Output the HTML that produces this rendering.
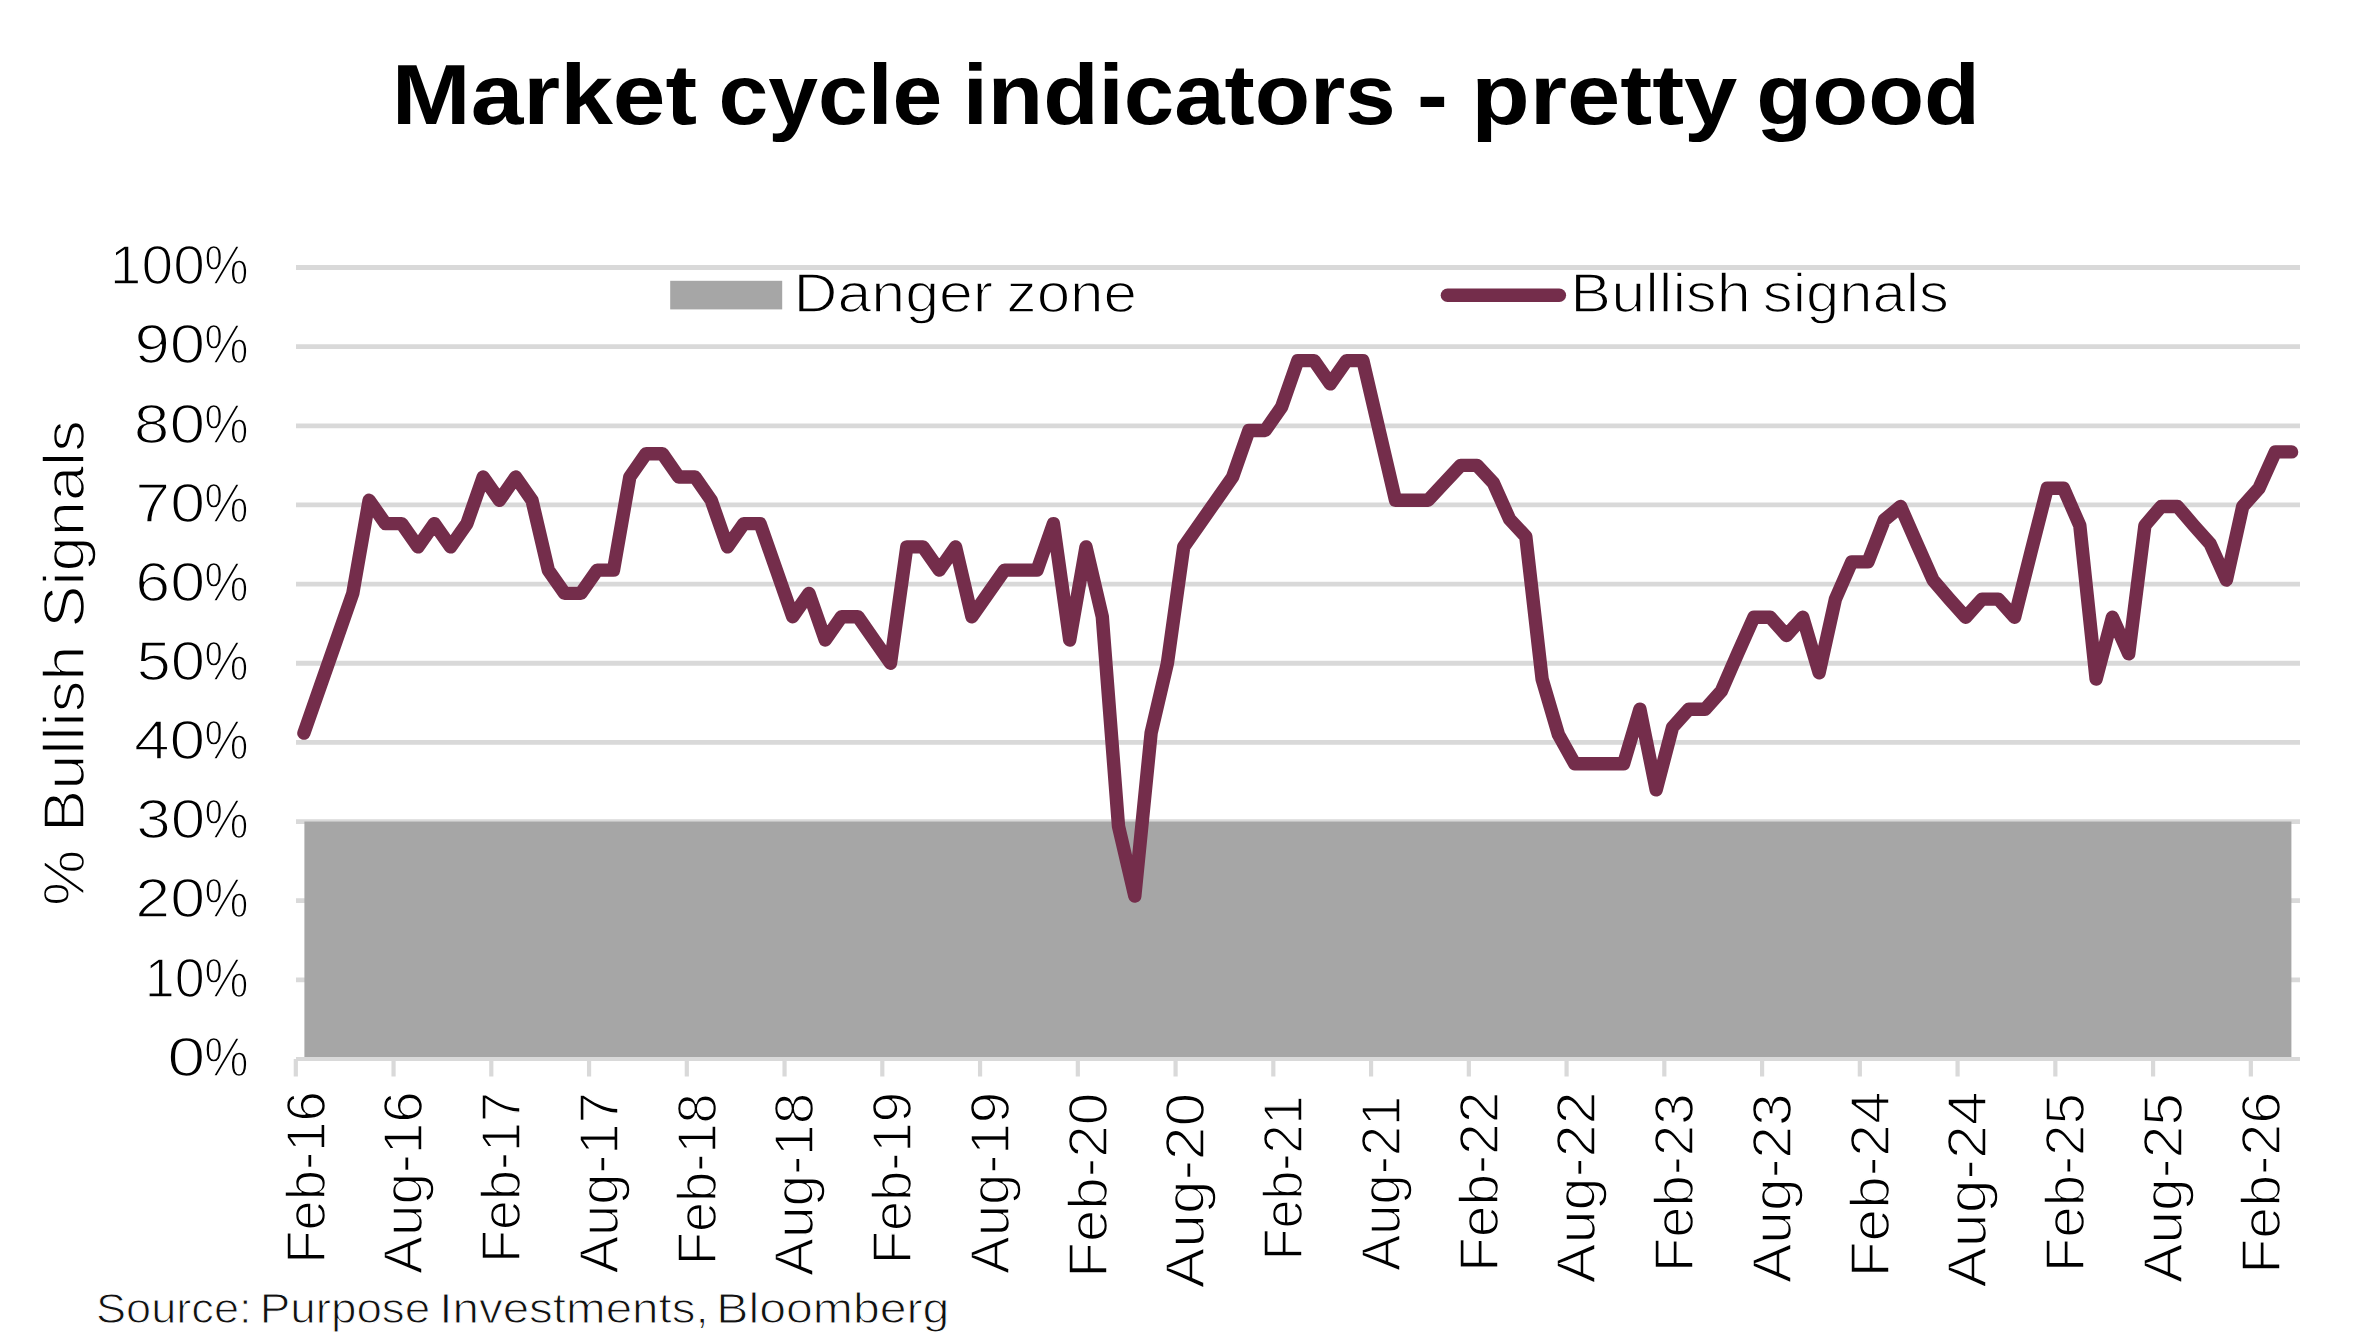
<!DOCTYPE html>
<html lang="en"><head><meta charset="utf-8"><title>Market cycle indicators - pretty good</title>
<style>html,body{margin:0;padding:0;background:#fff}body{width:2373px;height:1340px;overflow:hidden}svg{display:block}text{font-family:"Liberation Sans",sans-serif}</style></head><body>
<svg width="2373" height="1340" viewBox="0 0 2373 1340">
<rect width="2373" height="1340" fill="#fff"/>
<g stroke="#d9d9d9" stroke-width="4.8">
<line x1="296" y1="979.85" x2="2300" y2="979.85"/>
<line x1="296" y1="900.70" x2="2300" y2="900.70"/>
<line x1="296" y1="821.55" x2="2300" y2="821.55"/>
<line x1="296" y1="742.40" x2="2300" y2="742.40"/>
<line x1="296" y1="663.25" x2="2300" y2="663.25"/>
<line x1="296" y1="584.10" x2="2300" y2="584.10"/>
<line x1="296" y1="504.95" x2="2300" y2="504.95"/>
<line x1="296" y1="425.80" x2="2300" y2="425.80"/>
<line x1="296" y1="346.65" x2="2300" y2="346.65"/>
<line x1="296" y1="267.50" x2="2300" y2="267.50"/>
</g>
<rect x="304.4" y="821.55" width="1987.0" height="235.65" fill="#a6a6a6"/>
<g stroke="#d9d9d9" stroke-width="4.2">
<line x1="296" y1="1059" x2="2300" y2="1059"/>
<line x1="295.80" y1="1059" x2="295.80" y2="1076.5"/>
<line x1="393.55" y1="1059" x2="393.55" y2="1076.5"/>
<line x1="491.30" y1="1059" x2="491.30" y2="1076.5"/>
<line x1="589.06" y1="1059" x2="589.06" y2="1076.5"/>
<line x1="686.81" y1="1059" x2="686.81" y2="1076.5"/>
<line x1="784.56" y1="1059" x2="784.56" y2="1076.5"/>
<line x1="882.31" y1="1059" x2="882.31" y2="1076.5"/>
<line x1="980.06" y1="1059" x2="980.06" y2="1076.5"/>
<line x1="1077.82" y1="1059" x2="1077.82" y2="1076.5"/>
<line x1="1175.57" y1="1059" x2="1175.57" y2="1076.5"/>
<line x1="1273.32" y1="1059" x2="1273.32" y2="1076.5"/>
<line x1="1371.07" y1="1059" x2="1371.07" y2="1076.5"/>
<line x1="1468.82" y1="1059" x2="1468.82" y2="1076.5"/>
<line x1="1566.58" y1="1059" x2="1566.58" y2="1076.5"/>
<line x1="1664.33" y1="1059" x2="1664.33" y2="1076.5"/>
<line x1="1762.08" y1="1059" x2="1762.08" y2="1076.5"/>
<line x1="1859.83" y1="1059" x2="1859.83" y2="1076.5"/>
<line x1="1957.58" y1="1059" x2="1957.58" y2="1076.5"/>
<line x1="2055.34" y1="1059" x2="2055.34" y2="1076.5"/>
<line x1="2153.09" y1="1059" x2="2153.09" y2="1076.5"/>
<line x1="2250.84" y1="1059" x2="2250.84" y2="1076.5"/>
</g>
<polyline points="303.9,733.1 320.2,686.5 336.5,640.0 352.8,593.4 369.1,500.3 385.4,523.6 401.7,523.6 418.0,546.9 434.3,523.6 450.6,546.9 466.9,523.6 483.2,477.0 499.5,500.3 515.7,477.0 532.0,500.3 548.3,570.1 564.6,593.4 580.9,593.4 597.2,570.1 613.5,570.1 629.8,477.0 646.1,453.7 662.4,453.7 678.7,477.0 695.0,477.0 711.2,500.3 727.5,546.9 743.8,523.6 760.1,523.6 776.4,570.1 792.7,616.7 809.0,593.4 825.3,640.0 841.6,616.7 857.9,616.7 874.2,640.0 890.5,663.2 906.8,546.9 923.0,546.9 939.3,570.1 955.6,546.9 971.9,616.7 988.2,593.4 1004.5,570.1 1020.8,570.1 1037.1,570.1 1053.4,523.6 1069.7,640.0 1086.0,546.9 1102.3,616.7 1118.5,826.2 1134.8,896.0 1151.1,733.1 1167.4,663.2 1183.7,546.9 1200.0,523.6 1216.3,500.3 1232.6,477.0 1248.9,430.5 1265.2,430.5 1281.5,407.2 1297.8,360.6 1314.1,360.6 1330.3,383.9 1346.6,360.6 1362.9,360.6 1379.2,430.5 1395.5,500.3 1411.8,500.3 1428.1,500.3 1444.4,482.8 1460.7,465.4 1477.0,465.4 1493.3,482.8 1509.6,519.2 1525.8,536.6 1542.1,679.1 1558.4,734.5 1574.7,763.8 1591.0,763.8 1607.3,763.8 1623.6,763.8 1639.9,709.2 1656.2,789.9 1672.5,727.4 1688.8,709.2 1705.1,709.2 1721.4,691.0 1737.6,653.8 1753.9,617.3 1770.2,617.3 1786.5,635.5 1802.8,617.3 1819.1,672.7 1835.4,599.1 1851.7,561.9 1868.0,561.9 1884.3,520.0 1900.6,506.5 1916.9,543.7 1933.1,580.1 1949.4,599.1 1965.7,617.3 1982.0,599.1 1998.3,599.1 2014.6,617.3 2030.9,552.4 2047.2,488.3 2063.5,488.3 2079.8,525.5 2096.1,679.1 2112.4,617.3 2128.7,653.8 2144.9,525.5 2161.2,506.5 2177.5,506.5 2193.8,525.5 2210.1,543.7 2226.4,580.1 2242.7,506.5 2259.0,488.3 2275.3,451.9 2291.6,451.9" fill="none" stroke="#742d4b" stroke-width="13.4" stroke-linejoin="round" stroke-linecap="round"/>
<rect x="670.2" y="280.8" width="112" height="28.6" fill="#a6a6a6"/>
<line x1="1447.5" y1="295.25" x2="1559.3" y2="295.25" stroke="#742d4b" stroke-width="13.6" stroke-linecap="round"/>
<g>
<text y="312.15" font-size="55.65" stroke="#fff" stroke-width="1.50" fill="#000"><tspan x="793.41" textLength="199.76" lengthAdjust="spacingAndGlyphs">Danger</tspan> <tspan x="1006.55" textLength="130.51" lengthAdjust="spacingAndGlyphs">zone</tspan></text>
<text y="312.15" font-size="55.65" stroke="#fff" stroke-width="1.50" fill="#000"><tspan x="1570.34" textLength="180.36" lengthAdjust="spacingAndGlyphs">Bullish</tspan> <tspan x="1762.76" textLength="186.07" lengthAdjust="spacingAndGlyphs">signals</tspan></text>
<text y="124.00" font-size="85.22" font-weight="700" fill="#000"><tspan x="391.76" textLength="305.26" lengthAdjust="spacingAndGlyphs">Market</tspan> <tspan x="718.42" textLength="223.82" lengthAdjust="spacingAndGlyphs">cycle</tspan> <tspan x="962.66" textLength="433.11" lengthAdjust="spacingAndGlyphs">indicators</tspan> <tspan x="1417.14" textLength="30.85" lengthAdjust="spacingAndGlyphs">-</tspan> <tspan x="1471.26" textLength="266.11" lengthAdjust="spacingAndGlyphs">pretty</tspan> <tspan x="1756.31" textLength="223.77" lengthAdjust="spacingAndGlyphs">good</tspan></text>
<text y="1075.75" font-size="55.36" stroke="#fff" stroke-width="1.50" fill="#000"><tspan x="167.31" textLength="38.18" lengthAdjust="spacingAndGlyphs">0</tspan><tspan x="204.15" textLength="44.35" lengthAdjust="spacingAndGlyphs">%</tspan></text>
<text y="996.60" font-size="55.36" stroke="#fff" stroke-width="1.50" fill="#000"><tspan x="144.75" textLength="60.00" lengthAdjust="spacingAndGlyphs">10</tspan><tspan x="204.15" textLength="44.35" lengthAdjust="spacingAndGlyphs">%</tspan></text>
<text y="917.45" font-size="55.36" stroke="#fff" stroke-width="1.50" fill="#000"><tspan x="135.33" textLength="69.83" lengthAdjust="spacingAndGlyphs">20</tspan><tspan x="204.15" textLength="44.35" lengthAdjust="spacingAndGlyphs">%</tspan></text>
<text y="838.30" font-size="55.36" stroke="#fff" stroke-width="1.50" fill="#000"><tspan x="136.25" textLength="68.94" lengthAdjust="spacingAndGlyphs">30</tspan><tspan x="204.15" textLength="44.35" lengthAdjust="spacingAndGlyphs">%</tspan></text>
<text y="759.15" font-size="55.36" stroke="#fff" stroke-width="1.50" fill="#000"><tspan x="133.91" textLength="71.36" lengthAdjust="spacingAndGlyphs">40</tspan><tspan x="204.15" textLength="44.35" lengthAdjust="spacingAndGlyphs">%</tspan></text>
<text y="680.00" font-size="55.36" stroke="#fff" stroke-width="1.50" fill="#000"><tspan x="136.43" textLength="68.56" lengthAdjust="spacingAndGlyphs">50</tspan><tspan x="204.15" textLength="44.35" lengthAdjust="spacingAndGlyphs">%</tspan></text>
<text y="600.85" font-size="55.36" stroke="#fff" stroke-width="1.50" fill="#000"><tspan x="135.21" textLength="69.89" lengthAdjust="spacingAndGlyphs">60</tspan><tspan x="204.15" textLength="44.35" lengthAdjust="spacingAndGlyphs">%</tspan></text>
<text y="521.70" font-size="55.36" stroke="#fff" stroke-width="1.50" fill="#000"><tspan x="135.36" textLength="69.71" lengthAdjust="spacingAndGlyphs">70</tspan><tspan x="204.15" textLength="44.35" lengthAdjust="spacingAndGlyphs">%</tspan></text>
<text y="442.55" font-size="55.36" stroke="#fff" stroke-width="1.50" fill="#000"><tspan x="133.86" textLength="71.37" lengthAdjust="spacingAndGlyphs">80</tspan><tspan x="204.15" textLength="44.35" lengthAdjust="spacingAndGlyphs">%</tspan></text>
<text y="363.40" font-size="55.36" stroke="#fff" stroke-width="1.50" fill="#000"><tspan x="134.43" textLength="70.76" lengthAdjust="spacingAndGlyphs">90</tspan><tspan x="204.15" textLength="44.35" lengthAdjust="spacingAndGlyphs">%</tspan></text>
<text y="284.25" font-size="55.36" stroke="#fff" stroke-width="1.50" fill="#000"><tspan x="109.87" textLength="94.99" lengthAdjust="spacingAndGlyphs">100</tspan><tspan x="204.15" textLength="44.35" lengthAdjust="spacingAndGlyphs">%</tspan></text>
<text transform="translate(83.85,905.88) rotate(-90) scale(1.1062,1)" font-size="57.25" stroke="#fff" stroke-width="1.50" fill="#000">% Bullish Signals</text>
<text transform="translate(324.65,1263.71) rotate(-90) scale(0.9753,1)" font-size="55.80" stroke="#fff" stroke-width="1.50" fill="#000">Feb-16</text>
<text transform="translate(422.40,1273.90) rotate(-90) scale(1.0158,1)" font-size="55.80" stroke="#fff" stroke-width="1.50" fill="#000">Aug-16</text>
<text transform="translate(520.15,1262.93) rotate(-90) scale(0.9663,1)" font-size="55.80" stroke="#fff" stroke-width="1.50" fill="#000">Feb-17</text>
<text transform="translate(617.91,1273.42) rotate(-90) scale(1.0078,1)" font-size="55.80" stroke="#fff" stroke-width="1.50" fill="#000">Aug-17</text>
<text transform="translate(715.66,1265.31) rotate(-90) scale(0.9740,1)" font-size="55.80" stroke="#fff" stroke-width="1.50" fill="#000">Feb-18</text>
<text transform="translate(813.41,1275.94) rotate(-90) scale(1.0187,1)" font-size="55.80" stroke="#fff" stroke-width="1.50" fill="#000">Aug-18</text>
<text transform="translate(911.16,1264.31) rotate(-90) scale(0.9742,1)" font-size="55.80" stroke="#fff" stroke-width="1.50" fill="#000">Feb-19</text>
<text transform="translate(1008.91,1273.94) rotate(-90) scale(1.0119,1)" font-size="55.80" stroke="#fff" stroke-width="1.50" fill="#000">Aug-19</text>
<text transform="translate(1106.67,1277.74) rotate(-90) scale(1.0457,1)" font-size="55.80" stroke="#fff" stroke-width="1.50" fill="#000">Feb-20</text>
<text transform="translate(1204.42,1288.18) rotate(-90) scale(1.0862,1)" font-size="55.80" stroke="#fff" stroke-width="1.50" fill="#000">Aug-20</text>
<text transform="translate(1302.17,1260.19) rotate(-90) scale(0.9307,1)" font-size="55.80" stroke="#fff" stroke-width="1.50" fill="#000">Feb-21</text>
<text transform="translate(1399.92,1271.10) rotate(-90) scale(0.9751,1)" font-size="55.80" stroke="#fff" stroke-width="1.50" fill="#000">Aug-21</text>
<text transform="translate(1497.67,1272.12) rotate(-90) scale(1.0219,1)" font-size="55.80" stroke="#fff" stroke-width="1.50" fill="#000">Feb-22</text>
<text transform="translate(1595.43,1283.14) rotate(-90) scale(1.0660,1)" font-size="55.80" stroke="#fff" stroke-width="1.50" fill="#000">Aug-22</text>
<text transform="translate(1693.18,1272.30) rotate(-90) scale(1.0120,1)" font-size="55.80" stroke="#fff" stroke-width="1.50" fill="#000">Feb-23</text>
<text transform="translate(1790.93,1283.03) rotate(-90) scale(1.0552,1)" font-size="55.80" stroke="#fff" stroke-width="1.50" fill="#000">Aug-23</text>
<text transform="translate(1888.68,1277.30) rotate(-90) scale(1.0512,1)" font-size="55.80" stroke="#fff" stroke-width="1.50" fill="#000">Feb-24</text>
<text transform="translate(1986.43,1287.85) rotate(-90) scale(1.0926,1)" font-size="55.80" stroke="#fff" stroke-width="1.50" fill="#000">Aug-24</text>
<text transform="translate(2084.19,1272.30) rotate(-90) scale(1.0144,1)" font-size="55.80" stroke="#fff" stroke-width="1.50" fill="#000">Feb-25</text>
<text transform="translate(2181.94,1283.04) rotate(-90) scale(1.0568,1)" font-size="55.80" stroke="#fff" stroke-width="1.50" fill="#000">Aug-25</text>
<text transform="translate(2279.69,1273.74) rotate(-90) scale(1.0292,1)" font-size="55.80" stroke="#fff" stroke-width="1.50" fill="#000">Feb-26</text>
<text y="1322.80" font-size="41.59" stroke="#fff" stroke-width="1.00" fill="#111"><tspan x="96.03" textLength="155.52" lengthAdjust="spacingAndGlyphs">Source:</tspan> <tspan x="259.65" textLength="170.60" lengthAdjust="spacingAndGlyphs">Purpose</tspan> <tspan x="439.31" textLength="269.40" lengthAdjust="spacingAndGlyphs">Investments,</tspan> <tspan x="716.31" textLength="233.10" lengthAdjust="spacingAndGlyphs">Bloomberg</tspan></text>
</g>
</svg></body></html>
